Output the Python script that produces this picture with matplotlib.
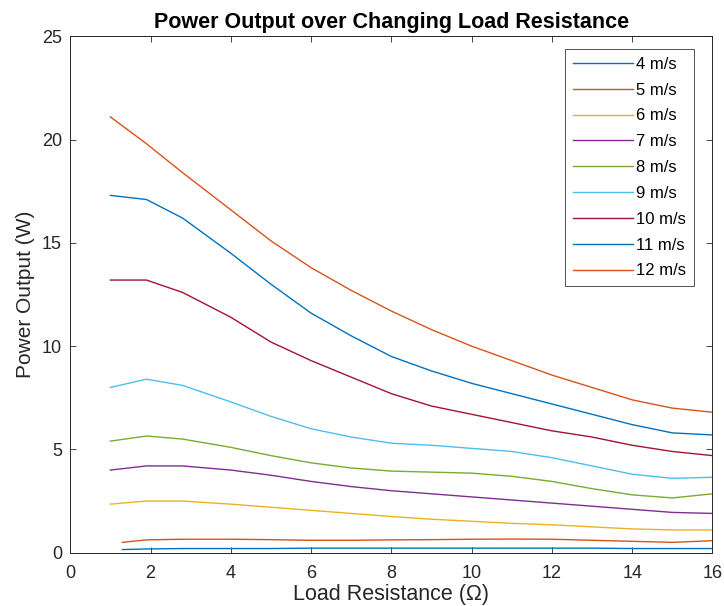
import matplotlib
matplotlib.use("Agg")
import matplotlib.pyplot as plt

plt.rcParams['font.family'] = ['Liberation Sans', 'DejaVu Sans']

# Load resistance (ohm)
x_main = [1, 1.9, 2.8, 4, 5, 6, 7, 8, 9, 10, 11, 12, 13, 14, 15, 16]
x_low = [1.3, 1.9, 2.8, 4, 5, 6, 7, 8, 9, 10, 11, 12, 13, 14, 15, 16]

labels = ["4 m/s", "5 m/s", "6 m/s", "7 m/s", "8 m/s", "9 m/s", "10 m/s", "11 m/s", "12 m/s"]

p4 = [0.15, 0.18, 0.2, 0.2, 0.2, 0.22, 0.22, 0.22, 0.22, 0.22, 0.22, 0.22, 0.22, 0.2, 0.2, 0.2]
p5 = [0.5, 0.62, 0.65, 0.65, 0.63, 0.6, 0.6, 0.62, 0.63, 0.65, 0.66, 0.65, 0.6, 0.55, 0.5, 0.58]
p6 = [2.35, 2.5, 2.5, 2.35, 2.2, 2.05, 1.9, 1.75, 1.62, 1.52, 1.42, 1.35, 1.25, 1.15, 1.1, 1.1]
p7 = [4.0, 4.2, 4.2, 4.0, 3.75, 3.45, 3.2, 3.0, 2.85, 2.7, 2.55, 2.4, 2.25, 2.1, 1.95, 1.9]
p8 = [5.4, 5.65, 5.5, 5.1, 4.7, 4.35, 4.1, 3.95, 3.9, 3.85, 3.7, 3.45, 3.1, 2.8, 2.65, 2.85]
p9 = [8.0, 8.4, 8.1, 7.3, 6.6, 6.0, 5.6, 5.3, 5.2, 5.05, 4.9, 4.6, 4.2, 3.8, 3.6, 3.65]
p10 = [13.2, 13.2, 12.6, 11.4, 10.2, 9.3, 8.5, 7.7, 7.1, 6.7, 6.3, 5.9, 5.6, 5.2, 4.9, 4.7]
p11 = [17.3, 17.1, 16.2, 14.5, 13.0, 11.6, 10.5, 9.5, 8.8, 8.2, 7.7, 7.2, 6.7, 6.2, 5.8, 5.7]
p12 = [21.1, 19.8, 18.4, 16.6, 15.1, 13.8, 12.7, 11.7, 10.8, 10.0, 9.3, 8.6, 8.0, 7.4, 7.0, 6.8]

series = [(x_low, p4), (x_low, p5), (x_main, p6), (x_main, p7), (x_main, p8),
          (x_main, p9), (x_main, p10), (x_main, p11), (x_main, p12)]
colors = ["#0072BD", "#D95319", "#EDB120", "#7E2F8E", "#77AC30",
          "#4DBEEE", "#A2142F", "#0072BD", "#D95319"]

fig = plt.figure(figsize=(7.24, 6.06), dpi=100)
ax = fig.add_axes([0.097, 0.088, 0.887, 0.852])

for (xs, ys), c, lab in zip(series, colors, labels):
    ax.plot(xs, ys, color=c, lw=1.0, label=lab)

ax.set_xlim(0, 16)
ax.set_ylim(0, 25)
ax.set_xticks(range(0, 17, 2))
ax.set_yticks(range(0, 26, 5))
ax.tick_params(direction='in', top=True, right=True, labelsize=13,
               colors='#262626', length=4, width=0.6)
ax.tick_params(axis='x', pad=9)
ax.tick_params(axis='y', pad=6)
for s in ax.spines.values():
    s.set_color('#262626')
    s.set_linewidth(0.7)

ax.set_xlabel("Load Resistance (\u03a9)", fontsize=15.5, color='#262626', labelpad=1)
ax.set_ylabel("Power Output (W)", fontsize=15, color='#262626', labelpad=5)
ax.set_title("Power Output over Changing Load Resistance", fontsize=15.5,
             fontweight='bold', color='black', pad=6)

leg = ax.legend(loc='upper right', bbox_to_anchor=(0.9706, 0.975), borderaxespad=0,
                fontsize=12, frameon=True, fancybox=False,
                edgecolor='#262626', handlelength=3.6,
                labelspacing=0.65, handletextpad=0.2, borderpad=0.45)
leg.get_frame().set_linewidth(0.7)

fig.savefig("out.png", dpi=100)
